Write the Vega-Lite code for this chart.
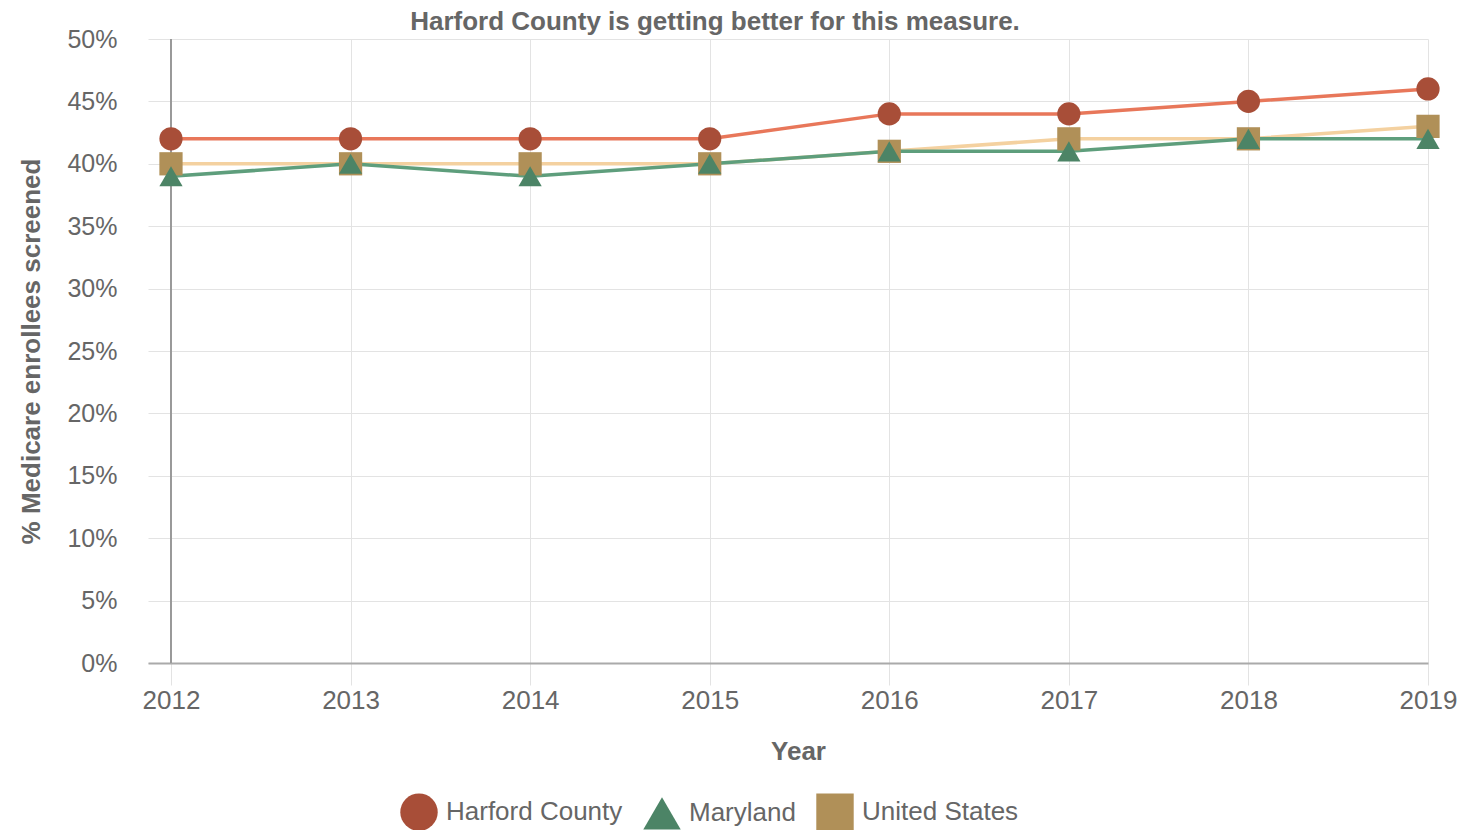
{
  "$schema": "https://vega.github.io/schema/vega-lite/v6.json",
  "autosize": {"type": "none"},
  "width": 1280,
  "height": 624,
  "padding": {"left": 148, "top": 39, "right": 32, "bottom": 167},
  "background": "white",
  "config": {
    "font": "Liberation Sans",
    "view": {"stroke": null},
    "axis": {"labelColor": "#666", "titleColor": "#666", "gridColor": "#e3e3e3", "labelFont": "Liberation Sans", "titleFont": "Liberation Sans"}
  },
  "title": {"text": "Harford County is getting better for this measure.", "anchor": "middle", "dx": -73, "dy": 35, "offset": 6, "fontSize": 26, "fontWeight": "bold", "color": "#666", "baseline": "alphabetic"},
  "data": {"values": [
    {"year": 2012, "series": "Harford County", "value": 0.42},
    {"year": 2013, "series": "Harford County", "value": 0.42},
    {"year": 2014, "series": "Harford County", "value": 0.42},
    {"year": 2015, "series": "Harford County", "value": 0.42},
    {"year": 2016, "series": "Harford County", "value": 0.44},
    {"year": 2017, "series": "Harford County", "value": 0.44},
    {"year": 2018, "series": "Harford County", "value": 0.45},
    {"year": 2019, "series": "Harford County", "value": 0.46},
    {"year": 2012, "series": "United States", "value": 0.40},
    {"year": 2013, "series": "United States", "value": 0.40},
    {"year": 2014, "series": "United States", "value": 0.40},
    {"year": 2015, "series": "United States", "value": 0.40},
    {"year": 2016, "series": "United States", "value": 0.41},
    {"year": 2017, "series": "United States", "value": 0.42},
    {"year": 2018, "series": "United States", "value": 0.42},
    {"year": 2019, "series": "United States", "value": 0.43},
    {"year": 2012, "series": "Maryland", "value": 0.39},
    {"year": 2013, "series": "Maryland", "value": 0.40},
    {"year": 2014, "series": "Maryland", "value": 0.39},
    {"year": 2015, "series": "Maryland", "value": 0.40},
    {"year": 2016, "series": "Maryland", "value": 0.41},
    {"year": 2017, "series": "Maryland", "value": 0.41},
    {"year": 2018, "series": "Maryland", "value": 0.42},
    {"year": 2019, "series": "Maryland", "value": 0.42}
  ]},
  "encoding": {
    "x": {"field": "year", "type": "quantitative", "scale": {"domain": [2011.872, 2019], "nice": false, "zero": false},
      "axis": {"title": "Year", "values": [2012, 2013, 2014, 2015, 2016, 2017, 2018, 2019], "format": "d", "labelFontSize": 26, "titleFontSize": 26, "titleFontWeight": "bold", "titlePadding": 25, "labelPadding": 2, "tickColor": "#e3e3e3", "tickSize": 22, "domainColor": "#aaa", "domainWidth": 2, "labelFlush": false, "labelBound": false, "labelOverlap": false, "titleX": 650}},
    "y": {"field": "value", "type": "quantitative", "scale": {"domain": [0, 0.5], "nice": false},
      "axis": {"title": "% Medicare enrollees screened", "format": ".0%", "values": [0, 0.05, 0.1, 0.15, 0.2, 0.25, 0.3, 0.35, 0.4, 0.45, 0.5], "labelFontSize": 25, "titleFontSize": 26, "titleFontWeight": "bold", "domain": false, "ticks": false, "labelPadding": 31, "titlePadding": 22, "labelOverlap": false, "labelBound": false}}
  },
  "layer": [
    {"mark": {"type": "rule", "color": "#9a9a9a", "strokeWidth": 1.5}, "encoding": {"x": {"datum": 2012}, "y": {"datum": 0.5}, "y2": {"datum": 0}}},
    {"mark": {"type": "line", "strokeWidth": 3.5},
      "encoding": {"stroke": {"field": "series", "type": "nominal", "scale": {"domain": ["United States", "Maryland", "Harford County"], "range": ["#f4d1a0", "#5e9e7c", "#e8775a"]}, "legend": null},
        "order": {"field": "year"}}},
    {"mark": {"type": "point", "filled": true, "opacity": 1, "size": 540},
      "encoding": {
        "fill": {"field": "series", "type": "nominal", "scale": {"domain": ["Harford County", "Maryland", "United States"], "range": ["#a84e38", "#4c8466", "#b09058"]},
          "legend": {"title": null, "orient": "none", "direction": "horizontal", "legendX": 252, "legendY": 754, "symbolSize": 1400, "labelFontSize": 26, "labelColor": "#666", "columnPadding": 20, "labelOffset": 8, "labelLimit": 0, "symbolStrokeWidth": 0, "labelFont": "Liberation Sans"}},
        "shape": {"field": "series", "type": "nominal", "scale": {"domain": ["Harford County", "Maryland", "United States"], "range": ["circle", "triangle-up", "square"]},
          "legend": {"title": null, "orient": "none", "direction": "horizontal", "legendX": 252, "legendY": 754, "symbolSize": 1400, "labelFontSize": 26, "labelColor": "#666", "columnPadding": 20, "labelOffset": 8, "labelLimit": 0, "symbolStrokeWidth": 0, "labelFont": "Liberation Sans"}}
      }}
  ]
}
